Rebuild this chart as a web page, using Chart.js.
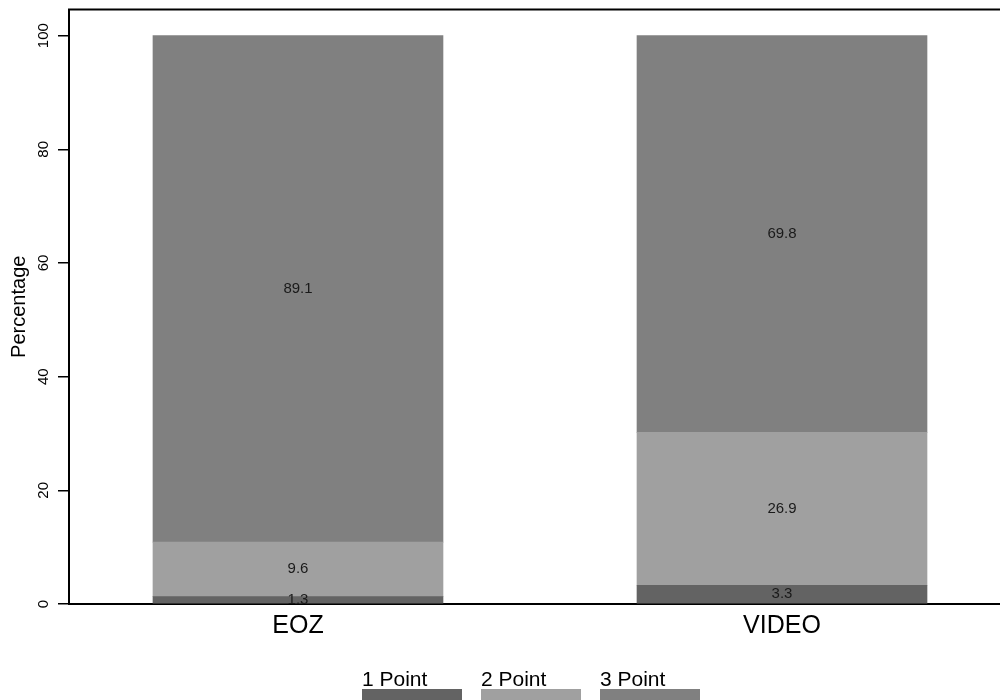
<!DOCTYPE html>
<html>
<head>
<meta charset="utf-8">
<script src="https://cdn.jsdelivr.net/npm/chart.js@4/dist/chart.umd.min.js"></script>
<style>
  html, body { margin: 0; padding: 0; background: #fff; }
  #grafico { display: block; }
</style>
</head>
<body>
<canvas id="grafico" width="1000" height="700"></canvas>
<script>
// datos del gr치fico
const categorias = ["EOZ", "VIDEO"];
const series = ["1 Point", "2 Point", "3 Point"];
const punto1 = [1.3, 3.3];
const punto2 = [9.6, 26.9];
const punto3 = [89.1, 69.8];
const ticksY = [0, 20, 40, 60, 80, 100];

const colores = ["#636363", "#a0a0a0", "#808080"];
const fuente = "'Liberation Sans', Arial, sans-serif";

document.addEventListener("DOMContentLoaded", () => {
  const valores = [punto1, punto2, punto3];

  const datasets = series.map((nombre, i) => ({
    label: nombre,
    data: categorias.map((_, j) => ({ x: j, y: valores[i][j] })),
    backgroundColor: colores[i],
    borderWidth: 0,
    barThickness: 290
  }));

  // etiquetas con el valor dentro de cada segmento
  const etiquetas = {
    id: "etiquetas",
    afterDatasetsDraw(chart) {
      const ctx = chart.ctx;
      ctx.save();
      ctx.font = "15px " + fuente;
      ctx.fillStyle = "#1a1a1a";
      ctx.textAlign = "center";
      ctx.textBaseline = "middle";
      chart.data.datasets.forEach((ds, i) => {
        chart.getDatasetMeta(i).data.forEach((el, j) => {
          const p = el.getCenterPoint();
          ctx.fillText(valores[i][j].toFixed(1), p.x, p.y);
        });
      });
      ctx.restore();
    }
  };

  // l칤nea superior del marco y leyenda de abajo
  const marco = {
    id: "marco",
    afterDraw(chart) {
      const ctx = chart.ctx;
      const area = chart.chartArea;
      ctx.save();
      ctx.strokeStyle = "#000";
      ctx.lineWidth = 2;
      ctx.beginPath();
      ctx.moveTo(area.left - 1, area.top);
      ctx.lineTo(area.right, area.top);
      ctx.stroke();

      let x = 362;
      ctx.font = "21px " + fuente;
      ctx.textAlign = "left";
      ctx.textBaseline = "alphabetic";
      series.forEach((nombre, i) => {
        ctx.fillStyle = colores[i];
        ctx.fillRect(x, 689, 100, 11);
        ctx.fillStyle = "#000";
        ctx.fillText(nombre, x, 686);
        x += 119;
      });
      ctx.restore();
    }
  };

  new Chart(document.getElementById("grafico"), {
    type: "bar",
    data: { datasets },
    plugins: [etiquetas, marco],
    options: {
      responsive: false,
      animation: false,
      layout: { padding: { top: 9, right: 0, left: 0, bottom: 56 } },
      plugins: {
        legend: { display: false },
        tooltip: { enabled: false }
      },
      scales: {
        x: {
          type: "linear",
          stacked: true,
          offset: false,
          min: -0.4731,
          max: 1.4504,
          afterBuildTicks: (scale) => {
            scale.ticks = categorias.map((_, i) => ({ value: i }));
          },
          afterFit: (scale) => { scale.height = 40; },
          grid: { display: false, drawTicks: false, offset: false },
          border: { display: true, color: "#000", width: 2 },
          ticks: {
            padding: 7,
            color: "#000",
            font: { family: fuente, size: 25 },
            callback: (v) => categorias[v]
          }
        },
        y: {
          stacked: true,
          min: 0,
          max: 104.6,
          afterBuildTicks: (scale) => {
            scale.ticks = ticksY.map(v => ({ value: v }));
          },
          afterFit: (scale) => { scale.width = 69; },
          grid: {
            drawOnChartArea: false,
            drawTicks: true,
            tickLength: 11,
            tickColor: "#000",
            lineWidth: 1.5
          },
          border: { display: true, color: "#000", width: 2 },
          ticks: {
            minRotation: 90,
            maxRotation: 90,
            crossAlign: "center",
            padding: 2,
            color: "#000",
            font: { family: fuente, size: 15, lineHeight: 1 }
          },
          title: {
            display: true,
            text: "Percentage",
            color: "#000",
            font: { family: fuente, size: 20 },
            padding: { top: 7, bottom: 0 }
          }
        }
      }
    }
  });
});
</script>
</body>
</html>
